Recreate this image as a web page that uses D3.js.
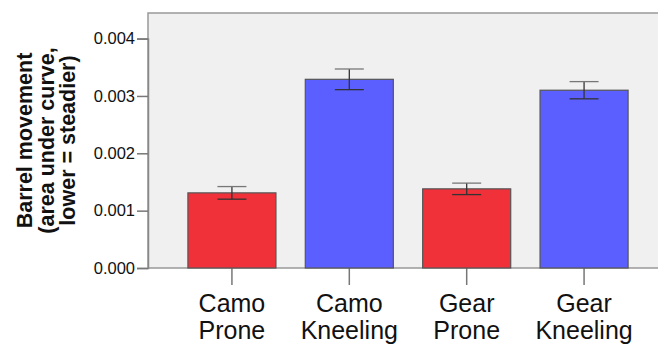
<!DOCTYPE html>
<html>
<head>
<meta charset="utf-8">
<script src="https://cdn.jsdelivr.net/npm/d3@7"></script>
<style>
  html, body { margin: 0; padding: 0; background: #fff; }
  svg { display: block; }
  text { font-family: "Liberation Sans", Arial, sans-serif; fill: #111; }
</style>
</head>
<body>
<svg id="chart" width="658" height="344"></svg>
<script>
// Barrel movement by condition, with error bars
const categories = [["Camo", "Prone"], ["Camo", "Kneeling"], ["Gear", "Prone"], ["Gear", "Kneeling"]];
const means  = [0.00131, 0.00329, 0.00138, 0.00310];
const errors = [0.00011, 0.00018, 0.00010, 0.00015];
const groups = ["prone", "kneeling", "prone", "kneeling"];
const yTicks = [0, 0.001, 0.002, 0.003, 0.004];
const titleLines = ["Barrel movement", "(area under curve,", "lower = steadier)"];

const colors = { prone: "#F0313A", kneeling: "#5B5FFF" };

const svg = d3.select("#chart");
const plot = { left: 148, top: 13, right: 668, bottom: 268 };

const x = d3.scaleBand()
  .domain(d3.range(categories.length))
  .range([plot.left, plot.right])
  .paddingInner(0.25)
  .paddingOuter(0.34);

const y = d3.scaleLinear()
  .domain([0, 0.004])
  .range([plot.bottom, plot.bottom - 4 * 57.35]);

// plot background and frame
svg.append("rect")
  .attr("x", plot.left).attr("y", plot.top)
  .attr("width", plot.right - plot.left).attr("height", plot.bottom - plot.top)
  .attr("fill", "#F0F0F0")
  .attr("stroke", "#999").attr("stroke-width", 1.5);

// y axis
const yAxis = d3.axisLeft(y)
  .tickValues(yTicks)
  .tickFormat(d3.format(".3f"))
  .tickSize(11)
  .tickPadding(2);
const gy = svg.append("g").attr("transform", `translate(${plot.left},0)`).call(yAxis);
gy.select(".domain").attr("stroke", "#888").attr("stroke-width", 1.5);
gy.selectAll(".tick line").attr("stroke", "#777").attr("stroke-width", 1.5);
gy.selectAll(".tick text")
  .attr("font-size", 16.5)
  .attr("fill", "#222")
  .style("font-family", "'Liberation Sans', Arial, sans-serif");

// x axis
const xAxis = d3.axisBottom(x).tickSize(17).tickFormat(() => "");
const gx = svg.append("g").attr("transform", `translate(0,${plot.bottom})`).call(xAxis);
gx.select(".domain").remove();
gx.selectAll(".tick line").attr("stroke", "#777").attr("stroke-width", 1.5);

// category labels (two lines each)
const catLabels = svg.append("g").selectAll("text")
  .data(categories)
  .join("text")
  .attr("x", (d, i) => x(i) + x.bandwidth() / 2)
  .attr("y", 312)
  .attr("text-anchor", "middle")
  .attr("font-size", 25);
catLabels.each(function(d, i) {
  const t = d3.select(this);
  d.forEach((line, j) => {
    t.append("tspan")
      .attr("x", x(i) + x.bandwidth() / 2)
      .attr("dy", j === 0 ? 0 : 27)
      .text(line);
  });
});

// bars
svg.append("g").selectAll("rect")
  .data(means)
  .join("rect")
  .attr("x", (d, i) => x(i))
  .attr("y", d => y(d))
  .attr("width", x.bandwidth())
  .attr("height", d => y(0) - y(d))
  .attr("fill", (d, i) => colors[groups[i]])
  .attr("stroke", "#555")
  .attr("stroke-width", 1.2);

// error bars
const capHalf = 14.5;
const eb = svg.append("g").attr("stroke", "#333").attr("stroke-width", 1.3);
means.forEach((m, i) => {
  const cx = x(i) + x.bandwidth() / 2;
  const hi = y(m + errors[i]);
  const lo = y(m - errors[i]);
  eb.append("line").attr("x1", cx).attr("x2", cx).attr("y1", hi).attr("y2", lo);
  eb.append("line").attr("x1", cx - capHalf).attr("x2", cx + capHalf).attr("y1", hi).attr("y2", hi).attr("stroke", "#777");
  eb.append("line").attr("x1", cx - capHalf).attr("x2", cx + capHalf).attr("y1", lo).attr("y2", lo);
});

// y axis title, rotated, three lines
const yMid = (plot.top + plot.bottom) / 2;
const title = svg.append("text")
  .attr("transform", `translate(0,${yMid}) rotate(-90)`)
  .attr("text-anchor", "middle")
  .attr("font-size", 21.5)
  .attr("font-weight", "bold");
titleLines.forEach((line, j) => {
  title.append("tspan")
    .attr("x", 0)
    .attr("y", 32 + j * 21.5)
    .text(line);
});
</script>
</body>
</html>
